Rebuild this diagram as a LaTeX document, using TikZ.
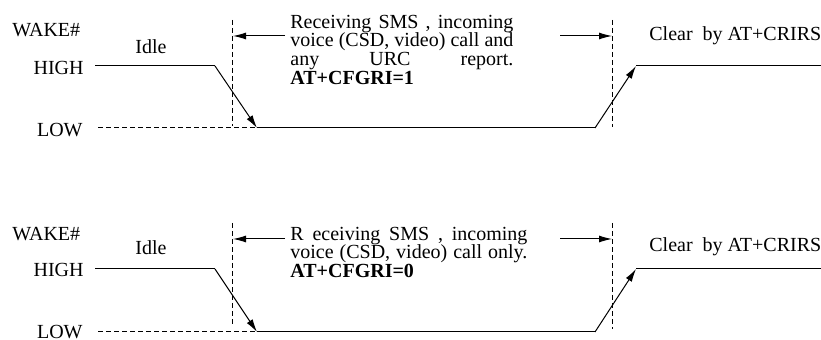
\documentclass[tikz,border=0pt]{standalone}
\usepackage{fontspec}
\setmainfont{Liberation Serif}
\usetikzlibrary{arrows.meta}

\tikzset{
	lbl/.style={inner sep=0pt, font=\fontsize{10}{9}\selectfont},
	note/.style={inner sep=0pt, anchor=north west, align=justify,
		font={\fontsize{10}{9.4}\selectfont\lineskiplimit=-5pt}},
	sig/.style={black, line width=0.5pt},
	guide/.style={black, line width=0.5pt, dash pattern=on 2.5pt off 1.5pt},
	edge/.style={sig, -{Latex[length=6.5pt,width=3.5pt]}},
}

\begin{document}
\begin{tikzpicture}[x=0.5pt,y=-0.5pt]
		\useasboundingbox (0,0) rectangle (821,340);

		% upper diagram: AT+CFGRI=1
		\node[lbl, anchor=west] (wakeA) at (12,30) {WAKE\#};
		\node[lbl] (idleA) at (151,47) {Idle};
		\node[lbl, anchor=east] (highA) at (84,68) {HIGH};
		\node[lbl, anchor=east] (lowA) at (83,130) {LOW};
		\node[lbl, anchor=west] (clearA) at (649,36) {Clear\ \ by AT+CRIRS};
		\node[note, text width=111.5pt] (msgA) at (290,14.5)
			{Receiving SMS , incoming\linebreak voice (CSD, video) call and\linebreak any URC report.\linebreak \textbf{AT+CFGRI=1}};

		\coordinate (h0A) at (95,66);
		\coordinate (h1A) at (215,66);
		\coordinate (l0A) at (257,128);
		\coordinate (l1A) at (595,128);
		\coordinate (h2A) at (636,66);
		\coordinate (h3A) at (821,66);
		\coordinate (d0A) at (98,128);
		\coordinate (d1A) at (292,128);
		\coordinate (v0A) at (232,20);
		\coordinate (v1A) at (232,126);
		\coordinate (v2A) at (612,20);
		\coordinate (v3A) at (612,127);
		\coordinate (a0A) at (285,36);
		\coordinate (a1A) at (233,36);
		\coordinate (a2A) at (560,36);
		\coordinate (a3A) at (612,36);

		\draw[guide] (d0A) -- (d1A);
		\draw[guide] (v0A) -- (v1A);
		\draw[guide] (v2A) -- (v3A);
		\draw[sig] (h0A) -- (h1A);
		\draw[edge] (h1A) -- (l0A);
		\draw[sig] (l0A) -- (l1A);
		\draw[edge] (l1A) -- (h2A);
		\draw[sig] (h2A) -- (h3A);
		\draw[edge] (a0A) -- (a1A);
		\draw[edge] (a2A) -- (a3A);

		% lower diagram: AT+CFGRI=0
		\node[lbl, anchor=west] (wakeB) at (12,234) {WAKE\#};
		\node[lbl] (idleB) at (151,248) {Idle};
		\node[lbl, anchor=east] (highB) at (84,270) {HIGH};
		\node[lbl, anchor=east] (lowB) at (83,332) {LOW};
		\node[lbl, anchor=west] (clearB) at (649,247) {Clear\ \ by AT+CRIRS};
		\node[note, text width=118.5pt] (msgB) at (290,226.5)
			{R eceiving SMS , incoming\linebreak voice (CSD, video) call only.\linebreak \textbf{AT+CFGRI=0}};

		\coordinate (h0B) at (95,269);
		\coordinate (h1B) at (215,269);
		\coordinate (l0B) at (257,332);
		\coordinate (l1B) at (595,332);
		\coordinate (h2B) at (636,269);
		\coordinate (h3B) at (821,269);
		\coordinate (d0B) at (98,332);
		\coordinate (d1B) at (292,332);
		\coordinate (v0B) at (232,223);
		\coordinate (v1B) at (232,327);
		\coordinate (v2B) at (612,223);
		\coordinate (v3B) at (612,329);
		\coordinate (a0B) at (285,239);
		\coordinate (a1B) at (233,239);
		\coordinate (a2B) at (560,239);
		\coordinate (a3B) at (612,239);

		\draw[guide] (d0B) -- (d1B);
		\draw[guide] (v0B) -- (v1B);
		\draw[guide] (v2B) -- (v3B);
		\draw[sig] (h0B) -- (h1B);
		\draw[edge] (h1B) -- (l0B);
		\draw[sig] (l0B) -- (l1B);
		\draw[edge] (l1B) -- (h2B);
		\draw[sig] (h2B) -- (h3B);
		\draw[edge] (a0B) -- (a1B);
		\draw[edge] (a2B) -- (a3B);

	\end{tikzpicture}
\end{document}
